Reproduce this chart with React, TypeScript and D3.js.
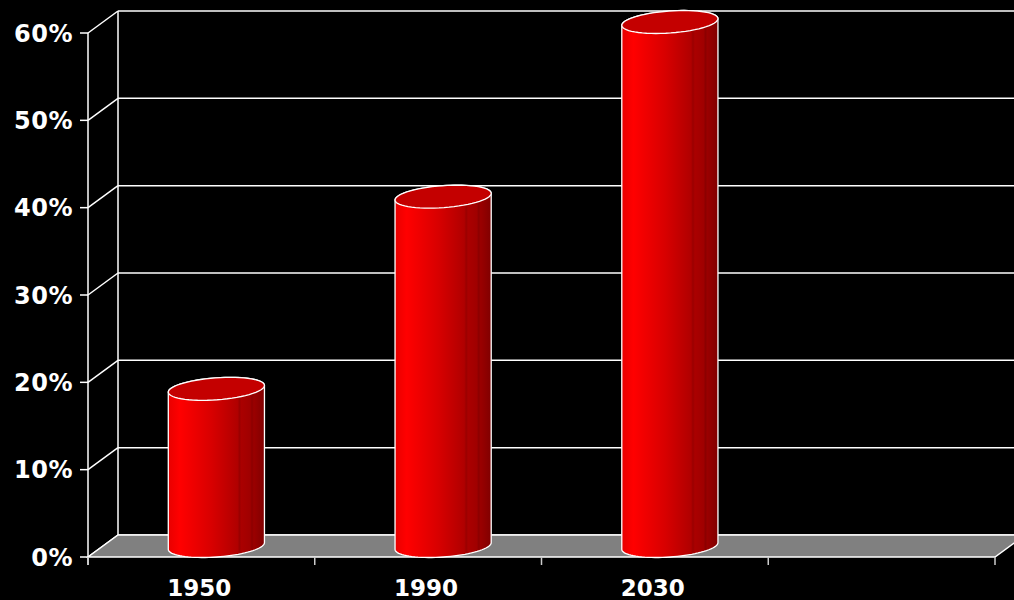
import React from "react";
import * as d3 from "d3";

const categories = ["1950", "1990", "2030", ""];
const values: (number | null)[] = [18, 40, 60, null];
const yTicks = [0, 10, 20, 30, 40, 50, 60];
const yTickLabels = ["0%", "10%", "20%", "30%", "40%", "50%", "60%"];

const W = 1014;
const H = 600;
const DX = 30;
const DY = -22;

export default function App() {
  const x = d3.scaleBand<string>().domain(categories).range([88, 995]).paddingInner(0).paddingOuter(0);
  const y = d3.scaleLinear().domain([0, 60]).range([557, 33]);
  const cw = x.bandwidth();

  const r = 46, a = 14, b = -11.5;
  const phi = Math.atan2(a, r);
  const ell = (cx: number, cy: number, t: number): [number, number] => [
    cx + r * Math.cos(t) + a * Math.sin(t),
    cy + b * Math.sin(t),
  ];
  const arcPts = (cx: number, cy: number, t0: number, t1: number, n = 40) => {
    const pts: [number, number][] = [];
    for (let i = 0; i <= n; i++) pts.push(ell(cx, cy, t0 + ((t1 - t0) * i) / n));
    return pts;
  };
  const line = d3.line();

  const edges = [0, 1, 2, 3, 4].map((i) => 88 + i * cw);

  return (
    <svg width={W} height={H} style={{ position: "absolute", left: 0, top: 0, background: "#000" }}>
      <defs>
        <linearGradient id="cyl" x1="0" x2="1" y1="0" y2="0">
          <stop offset="0" stopColor="#e80000" />
          <stop offset="0.12" stopColor="#ff0000" />
          <stop offset="0.45" stopColor="#d80000" />
          <stop offset="0.72" stopColor="#b00000" />
          <stop offset="0.74" stopColor="#9a0000" />
          <stop offset="0.76" stopColor="#aa0000" />
          <stop offset="0.85" stopColor="#a00000" />
          <stop offset="0.87" stopColor="#8c0000" />
          <stop offset="0.89" stopColor="#9a0000" />
          <stop offset="1" stopColor="#800000" />
        </linearGradient>
      </defs>
      <rect width={W} height={H} fill="#000" />
      {yTicks.map((v) => (
        <line key={"g" + v} x1={88 + DX} x2={995 + DX} y1={y(v) + DY} y2={y(v) + DY} stroke="#fff" strokeWidth={1.5} />
      ))}
      <line x1={88 + DX} x2={88 + DX} y1={y(60) + DY} y2={y(0) + DY} stroke="#fff" strokeWidth={1.5} />
      {yTicks.map((v) => (
        <line key={"s" + v} x1={88} x2={88 + DX} y1={y(v)} y2={y(v) + DY} stroke="#fff" strokeWidth={1.5} />
      ))}
      <polygon
        points={`88,${y(0)} 995,${y(0)} ${995 + DX},${y(0) + DY} ${88 + DX},${y(0) + DY}`}
        fill="#808080"
        stroke="#fff"
        strokeWidth={1.5}
      />
      <line x1={88} x2={88} y1={y(60)} y2={y(0) + 8} stroke="#fff" strokeWidth={1.5} />
      {yTicks.map((v, i) => (
        <g key={"yt" + v}>
          <line x1={80} x2={88} y1={y(v)} y2={y(v)} stroke="#fff" strokeWidth={1.5} />
          <text
            x={73}
            y={y(v)}
            dy="0.36em"
            textAnchor="end"
            fill="#fff"
            fontFamily="'DejaVu Sans', Verdana, sans-serif"
            fontWeight="bold"
            fontSize={24}
            letterSpacing={0.5}
          >
            {yTickLabels[i]}
          </text>
        </g>
      ))}
      {edges.map((e, i) => (
        <line key={"xt" + i} x1={e} x2={e} y1={y(0)} y2={y(0) + 8} stroke="#ccc" strokeWidth={1.5} />
      ))}
      {categories.map((c) => (
        <text
          key={"xl" + c}
          x={(x(c) as number) + cw / 2 - 2}
          y={588}
          dy="0.36em"
          textAnchor="middle"
          fill="#fff"
          fontFamily="'DejaVu Sans', Verdana, sans-serif"
          fontWeight="bold"
          fontSize={23}
        >
          {c}
        </text>
      ))}
      {categories.map((c, i) => {
        const v = values[i];
        if (v == null) return null;
        const cx = (x(c) as number) + cw / 2 + DX / 2;
        const yb = y(0) + DY / 2;
        const yt = y(v) + DY / 2;
        const tL = Math.PI + phi;
        const tR = 2 * Math.PI + phi;
        const pts: [number, number][] = [
          ell(cx, yt, tL),
          ...arcPts(cx, yb, tL, tR),
          ...arcPts(cx, yt, phi, Math.PI + phi),
        ];
        const top = arcPts(cx, yt, 0, 2 * Math.PI, 60);
        return (
          <g key={"c" + c}>
            <path d={line(pts) + "Z"} fill="url(#cyl)" stroke="#fff" strokeWidth={1.3} />
            <path d={line(top) + "Z"} fill="#c40000" stroke="#fff" strokeWidth={1.3} />
          </g>
        );
      })}
    </svg>
  );
}
